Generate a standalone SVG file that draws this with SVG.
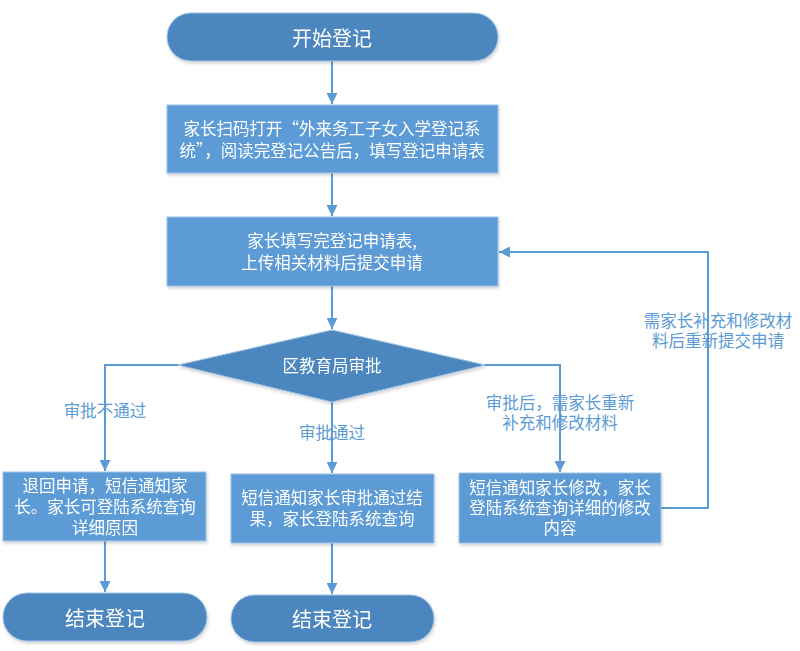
<svg xmlns="http://www.w3.org/2000/svg" width="800" height="651" viewBox="0 0 800 651">
<defs>
<style>
.pill{fill:#4C86BF;stroke:#9DC3E6;stroke-width:1}
.box{fill:#5B9BD5;stroke:#9DC3E6;stroke-width:1}
.dia{fill:#4C86BF;stroke:#9DC3E6;stroke-width:1}
.t{font-family:"Noto Sans CJK SC","Liberation Sans",sans-serif;fill:#fff;text-anchor:middle;dominant-baseline:central}
.tb{font-size:20px}
.ts{font-size:16.5px}
.lbl{font-family:"Noto Sans CJK SC","Liberation Sans",sans-serif;fill:#5B9BD5;font-size:16.5px;text-anchor:middle;dominant-baseline:central}
.c{fill:none;stroke:#5B9BD5;stroke-width:2}
</style>
<marker id="ah" viewBox="0 0 10 10" refX="10" refY="5" markerWidth="5.5" markerHeight="5.5" orient="auto" markerUnits="strokeWidth">
<path d="M0,0 L10,5 L0,10 z" fill="#5B9BD5"/>
</marker>
<filter id="sh" x="-5%" y="-10%" width="110%" height="130%">
<feDropShadow dx="1" dy="2" stdDeviation="1.5" flood-color="#000" flood-opacity="0.18"/>
</filter>
</defs>
<rect width="800" height="651" fill="#fff"/>
<g id="connectors">
<path class="c" d="M332,61 V104" marker-end="url(#ah)"/>
<path class="c" d="M332,173 V216" marker-end="url(#ah)"/>
<path class="c" d="M332,286 V329" marker-end="url(#ah)"/>
<path class="c" d="M178,365 H105 V471" marker-end="url(#ah)"/>
<path class="c" d="M332,402 V473" marker-end="url(#ah)"/>
<path class="c" d="M485,365 H560 V472" marker-end="url(#ah)"/>
<path class="c" d="M105,541 V592" marker-end="url(#ah)"/>
<path class="c" d="M332,543 V594" marker-end="url(#ah)"/>
<path class="c" d="M661,508 H708 V252 H499" marker-end="url(#ah)"/>
<text class="lbl" x="105" y="410">审批不通过</text>
<text class="lbl" x="332" y="432">审批通过</text>
<text class="lbl" x="560" y="402">审批后，需家长重新</text>
<text class="lbl" x="560" y="422">补充和修改材料</text>
<text class="lbl" x="718" y="320">需家长补充和修改材</text>
<text class="lbl" x="718" y="340">料后重新提交申请</text>
</g>
<g id="start" filter="url(#sh)">
<rect class="pill" x="167" y="13" width="331" height="48" rx="24"/>
<text class="t tb" x="332" y="37">开始登记</text>
</g>
<g id="scan" filter="url(#sh)">
<rect class="box" x="167" y="105" width="331" height="68"/>
<text class="t ts" x="332" y="128">家长扫码打开“外来务工子女入学登记系</text>
<text class="t ts" x="332" y="150">统”，阅读完登记公告后，填写登记申请表</text>
</g>
<g id="submit" filter="url(#sh)">
<rect class="box" x="167" y="217" width="331" height="69"/>
<text class="t ts" x="332" y="240">家长填写完登记申请表,</text>
<text class="t ts" x="332" y="262">上传相关材料后提交申请</text>
</g>
<g id="review" filter="url(#sh)">
<polygon class="dia" points="332,330 485,365 332,402 178,365"/>
<text class="t ts" x="332" y="365">区教育局审批</text>
</g>
<g id="reject" filter="url(#sh)">
<rect class="box" x="3" y="472" width="203" height="69"/>
<text class="t ts" x="105" y="485">退回申请，短信通知家</text>
<text class="t ts" x="105" y="506">长。家长可登陆系统查询</text>
<text class="t ts" x="105" y="527">详细原因</text>
</g>
<g id="pass" filter="url(#sh)">
<rect class="box" x="231" y="474" width="203" height="69"/>
<text class="t ts" x="332" y="497">短信通知家长审批通过结</text>
<text class="t ts" x="332" y="518">果，家长登陆系统查询</text>
</g>
<g id="modify" filter="url(#sh)">
<rect class="box" x="459" y="473" width="202" height="70"/>
<text class="t ts" x="560" y="487">短信通知家长修改，家长</text>
<text class="t ts" x="560" y="507">登陆系统查询详细的修改</text>
<text class="t ts" x="560" y="527">内容</text>
</g>
<g id="end1" filter="url(#sh)">
<rect class="pill" x="3" y="593" width="204" height="48" rx="24"/>
<text class="t tb" x="105" y="617">结束登记</text>
</g>
<g id="end2" filter="url(#sh)">
<rect class="pill" x="231" y="595" width="203" height="47" rx="23.5"/>
<text class="t tb" x="332" y="618">结束登记</text>
</g>
</svg>
